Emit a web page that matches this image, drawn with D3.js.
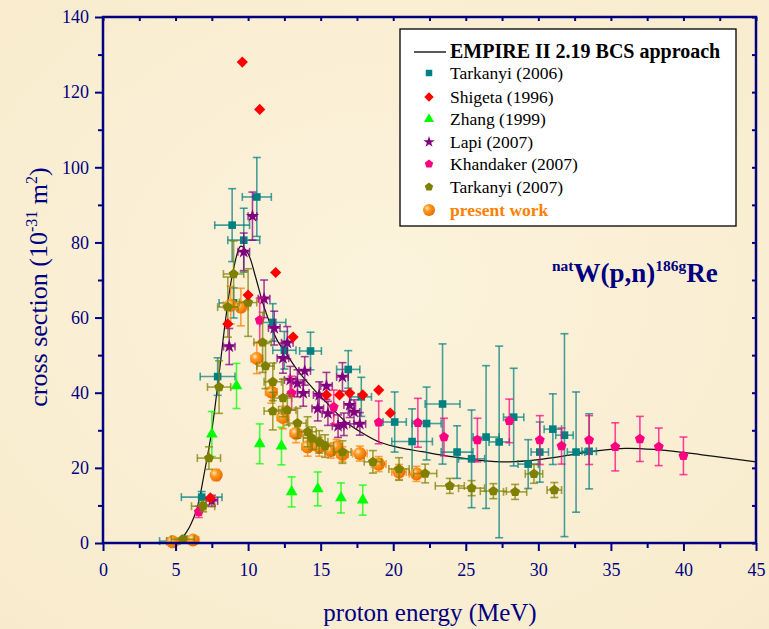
<!DOCTYPE html>
<html><head><meta charset="utf-8">
<script src="https://cdn.jsdelivr.net/npm/d3@7"></script>
<style>html,body{margin:0;padding:0;background:#faf0d6;}svg{display:block;}</style>
</head><body>
<script>
// ---------- data ----------
const xTicks = [0,5,10,15,20,25,30,35,40,45];
const yTicks = [0,20,40,60,80,100,120,140];
// EMPIRE II 2.19 BCS approach curve [E, sigma]
const empireCurve = [[5.3,0],[5.6,2],[6.0,4.5],[6.5,9.5],[7.0,19],[7.5,30],[8.0,45],[8.5,61],[9.0,73],[9.5,79],[10.0,77],[10.5,71],[11.0,64],[11.5,58.5],[12.0,54],[12.7,50],[13.4,46],[14.5,41],[15.5,37],[16.8,32],[18,29],[19.1,26.8],[20.5,25.3],[22,24.3],[24,23],[26,22],[28,21.6],[30,22.2],[32,23.3],[34,24.5],[36,25.2],[38,24.9],[40,24.1],[42,23.1],[45,21.6]];
// [E, sigma, dE, dSigma]
const tarkanyi2006 = [[4.6,0.5,0.7,0.5],[5.6,1.0,0.8,0.5],[6.8,12.2,1.4,1.5],[7.9,44.3,1.2,5],[8.9,84.6,1.2,9.7],[9.0,63.9,1.0,4],[9.7,80.6,1.1,8.5],[10.6,92.1,1.0,10.5],[11.7,58.7,0.9,5],[12.5,51.3,0.8,5],[14.3,51.1,0.75,5],[16.9,46.2,0.8,5],[17.8,38.9,0.7,5.2],[20.1,32.2,0.8,8],[21.3,27.0,1.4,8.7],[22.3,31.8,1.0,9.7],[23.4,37,1.2,16],[24.4,24.2,1.1,7],[25.4,22.4,0.9,13],[26.4,28.2,0.9,19],[27.3,26.9,0.7,25.5],[28.3,33.5,0.7,13],[29.3,21.0,0.7,6.5],[30.1,24.2,0.6,8],[31.0,30.3,0.6,9.4],[31.8,28.7,0.6,27],[32.6,24.2,0.6,16],[33.5,24.4,0.5,10]];
const shigeta1996 = [[7.4,12],[8.6,58.3],[9.6,128],[10.0,66],[10.8,115.4],[11.9,72],[13.1,54.8],[15.4,39.4],[16.3,39.4],[17.0,39.9],[17.9,39.4],[19.0,40.7],[19.8,34.6]];
// [E, sigma, dSigma]
const zhang1999 = [[7.5,29,6],[9.2,41.8,6],[10.8,26.4,5.3],[12.3,25.8,5],[13.0,13.6,4],[14.8,14.4,4.5],[16.4,12.0,4],[17.9,11.4,4]];
// [E, sigma, dE, dSigma]
const lapi2007 = [[7.5,11.2,0.4,1.5],[8.7,52.3,0.4,4.8],[9.7,77.5,0.4,5],[10.3,87,0.3,6.4],[11.1,65,0.4,5],[11.8,57.2,0.4,4.5],[12.4,49.2,0.4,4],[12.7,53.3,0.4,4.3],[12.9,43.4,0.4,3.6],[13.4,42.5,0.4,3.6],[13.8,39.9,0.4,3.5],[13.9,45.8,0.4,3.8],[14.8,35.8,0.4,3.3],[14.9,39.4,0.4,3.5],[15.4,41.8,0.4,3.6],[15.5,34.5,0.4,3.2],[16.2,31.1,0.4,3],[16.5,44.2,0.4,3.8],[16.6,31.6,0.4,3],[17.0,36.7,0.4,3.3],[17.3,34.9,0.4,3.2],[17.7,31.7,0.4,3]];
// [E, sigma, dSigma]
const khandaker2007 = [[6.6,8.3,1.5],[10.8,59.3,5.9],[13.0,39.9,4.5],[15.9,36.2,4.5],[19.0,32.1,5.7],[21.7,32.0,6.5],[23.5,28.2,5],[25.8,27.4,5.8],[28.0,32.5,5.8],[30.1,27.4,6.5],[31.6,25.8,4.8],[33.5,27.4,6.5],[35.3,25.6,6.4],[37.0,27.7,6],[38.3,25.6,5],[40.0,23.2,5]];
// [E, sigma, dE, dSigma]
const tarkanyi2007 = [[5.5,1,0.8,0.5],[6.9,9.8,0.8,1.5],[7.3,22.6,0.8,3],[8.0,41.5,0.8,7],[8.6,62.8,0.7,8],[9.0,71.6,0.7,8.8],[10.0,64,0.6,9],[11.0,53.4,0.6,8],[11.2,47.1,0.6,6],[11.7,42.9,0.6,5],[11.7,35.1,0.6,5],[12.4,38.6,0.6,5],[12.7,35.4,0.6,4],[13.4,31.9,0.6,4],[14.1,29.6,0.6,4],[14.4,27.9,0.6,3],[14.9,26.9,0.6,3],[15.3,25.8,0.6,3],[16.5,24.2,0.6,3],[18.6,21.6,0.6,3],[20.4,19.7,0.7,3],[22.2,18.5,0.8,2.5],[23.9,15.2,1,2],[25.4,14.6,0.9,2],[26.9,13.8,0.9,2],[28.4,13.6,0.8,2],[29.7,18.4,0.6,2.5],[31.1,14.1,0.5,2]];
const presentWork = [[4.8,0.3,0.4,0.3],[6.2,0.8,0.4,0.3],[7.8,18.1,0.3,1.5],[8.8,63.3,0.5,5],[9.5,62.8,0.5,5],[10.6,49.1,0.4,4],[11.6,40.2,0.4,3],[12.4,33.4,0.4,3],[13.3,29.2,0.4,2.5],[14.1,25.6,0.4,2.5],[14.9,25.6,0.4,2.5],[15.7,24.6,0.4,2],[16.1,25.6,0.4,2],[16.5,23.6,0.4,2],[17.7,23.8,0.5,2],[19.0,21.0,0.5,2],[20.4,18.9,0.5,2],[21.6,18.4,0.5,2]];
const legendLabels = ["EMPIRE II 2.19 BCS approach","Tarkanyi (2006)","Shigeta (1996)","Zhang (1999)","Lapi (2007)","Khandaker (2007)","Tarkanyi (2007)","present work"];

// ---------- setup ----------
const W = 769, H = 629;
const navy = "#000080";
const serif = "Liberation Serif, Times New Roman, serif";
const svg = d3.select("body").append("svg").attr("width", W).attr("height", H);
const defs = svg.append("defs");
const bg = defs.append("radialGradient").attr("id","bg").attr("cx","50%").attr("cy","45%").attr("r","75%");
bg.append("stop").attr("offset","0%").attr("stop-color","#fcf3dc");
bg.append("stop").attr("offset","100%").attr("stop-color","#f8ebcd");
const ball = defs.append("radialGradient").attr("id","ball").attr("cx","35%").attr("cy","35%").attr("r","70%");
ball.append("stop").attr("offset","0%").attr("stop-color","#ffe9c8");
ball.append("stop").attr("offset","35%").attr("stop-color","#ff9a1e");
ball.append("stop").attr("offset","100%").attr("stop-color","#e66a00");
svg.append("rect").attr("width",W).attr("height",H).attr("fill","url(#bg)");

const x = d3.scaleLinear().domain([0,45]).range([103,756]);
const y = d3.scaleLinear().domain([0,140]).range([543,17]);

// ---------- curve ----------
const line = d3.line().x(d=>x(d[0])).y(d=>y(d[1])).curve(d3.curveCatmullRom.alpha(0.5));
svg.append("path").datum(empireCurve).attr("d",line).attr("fill","none").attr("stroke","#111").attr("stroke-width",1.2);

// ---------- markers ----------
function pentagon(r){
  const pts = d3.range(5).map(i=>{const a = -Math.PI/2 + i*2*Math.PI/5; return [r*Math.cos(a), r*Math.sin(a)];});
  return "M"+pts.map(p=>p.join(",")).join("L")+"Z";
}
const shapes = {
  square: d3.symbol().type(d3.symbolSquare).size(58)(),
  diamond: "M0,-5.6L5.6,0L0,5.6L-5.6,0Z",
  triangle: d3.symbol().type(d3.symbolTriangle).size(60)(),
  star: d3.symbol().type(d3.symbolStar).size(55)(),
  pent: pentagon(5.2)
};
function errBars(g, data, color, get){
  const cap = 4;
  data.forEach(d=>{
    const [E,s,dE,dS] = get(d);
    const cx = x(E), cy = y(s);
    const eg = g.append("g").attr("stroke",color).attr("stroke-width",1.6).attr("stroke-opacity",0.72).attr("fill","none");
    if (dS>0){
      const y1 = y(Math.max(0,s-dS)), y2 = y(s+dS);
      eg.append("line").attr("x1",cx).attr("x2",cx).attr("y1",y1).attr("y2",y2);
      eg.append("line").attr("x1",cx-cap).attr("x2",cx+cap).attr("y1",y1).attr("y2",y1);
      eg.append("line").attr("x1",cx-cap).attr("x2",cx+cap).attr("y1",y2).attr("y2",y2);
    }
    if (dE>0){
      const x1 = x(E-dE), x2 = x(E+dE);
      eg.append("line").attr("x1",x1).attr("x2",x2).attr("y1",cy).attr("y2",cy);
      eg.append("line").attr("x1",x1).attr("x2",x1).attr("y1",cy-cap).attr("y2",cy+cap);
      eg.append("line").attr("x1",x2).attr("x2",x2).attr("y1",cy-cap).attr("y2",cy+cap);
    }
  });
}
function marks(g, data, shape, color){
  g.selectAll("path.m").data(data).join("path").attr("class","m")
    .attr("d",shapes[shape]).attr("fill",color)
    .attr("transform",d=>`translate(${x(d[0])},${y(d[1])})`);
}
const plot = svg.append("g");
const gT6 = plot.append("g"); errBars(gT6, tarkanyi2006, "#008080", d=>d); marks(gT6, tarkanyi2006, "square", "#008080");
const gZ = plot.append("g"); errBars(gZ, zhang1999, "#00ff00", d=>[d[0],d[1],0,d[2]]); marks(gZ, zhang1999, "triangle", "#00ff00");
const gL = plot.append("g"); errBars(gL, lapi2007, "#800080", d=>d); marks(gL, lapi2007, "star", "#800080");
const gK = plot.append("g"); errBars(gK, khandaker2007, "#ff0080", d=>[d[0],d[1],0,d[2]]); marks(gK, khandaker2007, "pent", "#ff0080");
const gP = plot.append("g"); errBars(gP, presentWork, "#ff8000", d=>d);
gP.selectAll("circle").data(presentWork).join("circle").attr("cx",d=>x(d[0])).attr("cy",d=>y(d[1])).attr("r",6.5).attr("fill","url(#ball)");
const gT7 = plot.append("g"); errBars(gT7, tarkanyi2007, "#808000", d=>d); marks(gT7, tarkanyi2007, "pent", "#808000");
const gS = plot.append("g"); marks(gS, shigeta1996, "diamond", "#ff0000");

// ---------- axes ----------
const ax = svg.append("g").attr("color",navy);
ax.append("g").attr("transform","translate(0,543)")
  .call(d3.axisBottom(x).tickValues(xTicks).tickSize(8).tickPadding(12).tickFormat(d3.format("d")));
ax.append("g").attr("transform","translate(0,543)")
  .call(d3.axisBottom(x).tickValues(d3.range(2.5,45,5)).tickSize(5).tickFormat(""));
ax.append("g").attr("transform","translate(103,0)")
  .call(d3.axisLeft(y).tickValues(yTicks).tickSize(8).tickPadding(6).tickFormat(d3.format("d")));
ax.append("g").attr("transform","translate(103,0)")
  .call(d3.axisLeft(y).tickValues(d3.range(10,140,20)).tickSize(5).tickFormat(""));
ax.append("g").attr("transform","translate(0,17)")
  .call(d3.axisBottom(x).tickValues(d3.range(0,45.1,2.5)).tickSize(4).tickFormat(""));
ax.append("g").attr("transform","translate(756,0)")
  .call(d3.axisLeft(y).tickValues(d3.range(0,140.1,10)).tickSize(4).tickFormat(""));
ax.selectAll(".domain").remove();
ax.selectAll("line").attr("stroke-width",2);
ax.selectAll("g").attr("font-family",serif);
ax.selectAll("text").attr("font-family",serif).style("font-family",serif).attr("font-size",18).attr("fill",navy);
svg.append("rect").attr("x",x(0)).attr("y",y(140)).attr("width",x(45)-x(0)).attr("height",y(0)-y(140))
  .attr("fill","none").attr("stroke",navy).attr("stroke-width",2.5);

// axis titles
svg.append("text").attr("x",430).attr("y",621).attr("text-anchor","middle")
  .style("font-family",serif).attr("font-size",25).attr("fill",navy).text("proton energy (MeV)");
const yt = svg.append("text").attr("transform","translate(47,287) rotate(-90)").attr("text-anchor","middle")
  .style("font-family",serif).attr("font-size",26).attr("fill",navy);
yt.append("tspan").text("cross section (10");
yt.append("tspan").attr("dy",-10).attr("font-size",16).text("-31");
yt.append("tspan").attr("dy",10).text(" m");
yt.append("tspan").attr("dy",-10).attr("font-size",16).text("2");
yt.append("tspan").attr("dy",10).text(")");

// reaction annotation
const rx = svg.append("text").attr("x",552).attr("y",282).style("font-family",serif)
  .attr("font-weight","bold").attr("font-size",27).attr("fill",navy);
rx.append("tspan").attr("font-size",15.5).attr("dy",-11).text("nat");
rx.append("tspan").attr("dy",11).text("W(p,n)");
rx.append("tspan").attr("font-size",15.5).attr("dy",-11).text("186g");
rx.append("tspan").attr("dy",11).text("Re");

// ---------- legend ----------
const lg = svg.append("g");
lg.append("rect").attr("x",400).attr("y",29).attr("width",336).attr("height",197)
  .attr("fill","#ffffff").attr("stroke","#000").attr("stroke-width",1.3);
const rowY = [52,73,97,119,142,164,187,210];
lg.append("line").attr("x1",414).attr("x2",446).attr("y1",rowY[0]).attr("y2",rowY[0]).attr("stroke","#000").attr("stroke-width",1.3);
const legShapes = [null,["square","#008080"],["diamond","#ff0000"],["triangle","#00ff00"],["star","#800080"],["pent","#ff0080"],["pent","#808000"],null];
legShapes.forEach((s,i)=>{
  if(!s) return;
  lg.append("path").attr("d",shapes[s[0]]).attr("fill",s[1]).attr("transform",`translate(429,${rowY[i]}) scale(0.85)`);
});
lg.append("circle").attr("cx",429).attr("cy",rowY[7]).attr("r",6).attr("fill","url(#ball)");
legendLabels.forEach((t,i)=>{
  lg.append("text").attr("x",450).attr("y",rowY[i]+6).style("font-family",serif)
    .attr("font-size", i===0?20:17.5).attr("font-weight",(i===0||i===7)?"bold":"normal")
    .attr("fill", i===7?"#ff8000":"#000").text(t);
});
</script>
</body></html>
